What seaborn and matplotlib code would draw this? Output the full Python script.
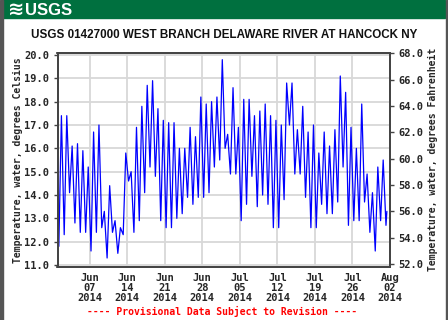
import numpy as np
import pandas as pd
import matplotlib
matplotlib.use("Agg")
import matplotlib.pyplot as plt
import matplotlib.dates as mdates
from matplotlib.patches import Rectangle
import seaborn as sns

# ---- data ----
title = "USGS 01427000 WEST BRANCH DELAWARE RIVER AT HANCOCK NY"
first_day = "2014-06-01"
start_value = 13.9
daily_low = [11.8, 12.3, 14.1, 12.8, 12.4, 12.4, 11.6, 12.4, 12.6, 11.3,
             12.4, 11.5, 12.3, 14.6, 12.4, 12.9, 14.1, 15.2, 14.8, 12.9,
             12.6, 12.6, 13.0, 13.2, 13.9, 13.6, 13.9, 13.9, 14.1, 15.2,
             15.5, 16.0, 14.9, 14.9, 12.9, 13.6, 14.8, 13.5, 14.0, 13.6,
             12.6, 12.6, 13.8, 17.0, 14.9, 14.9, 13.9, 12.6, 12.6, 13.6,
             13.2, 13.2, 13.7, 15.2, 12.7, 12.9, 12.9, 13.7, 12.4, 11.6,
             12.9, 12.7]
daily_high = [17.4, 17.4, 16.1, 16.2, 15.9, 15.2, 16.7, 17.0, 13.3, 14.4,
              12.9, 12.6, 15.8, 15.0, 16.9, 17.8, 18.7, 18.9, 17.7, 17.2,
              17.1, 17.1, 16.0, 16.0, 16.9, 16.5, 18.2, 17.9, 18.0, 18.2,
              19.8, 16.6, 18.6, 16.9, 18.1, 18.1, 17.4, 17.6, 17.9, 17.4,
              17.2, 17.0, 18.8, 18.8, 16.8, 17.8, 16.7, 17.0, 15.8, 16.7,
              16.1, 16.8, 19.1, 18.4, 16.9, 16.0, 17.9, 14.9, 14.1, 15.2,
              15.5]
end_value = 13.3
c_ticks = [11, 12, 13, 14, 15, 16, 17, 18, 19, 20]
f_ticks = [52, 54, 56, 58, 60, 62, 64, 66, 68]
x_tick_dates = ["2014-06-07", "2014-06-14", "2014-06-21", "2014-06-28",
                "2014-07-05", "2014-07-12", "2014-07-19", "2014-07-26",
                "2014-08-02"]

# ---- build the series (low ~06:00, high ~17:30 each day) ----
days = pd.date_range(first_day, periods=len(daily_low), freq="D")
times = [pd.Timestamp(first_day)]
vals = [start_value]
for i, d in enumerate(days):
    times.append(d + pd.Timedelta(hours=6))
    vals.append(daily_low[i])
    if i < len(daily_high):
        times.append(d + pd.Timedelta(hours=17.5))
        vals.append(daily_high[i])
times.append(days[-1] + pd.Timedelta(hours=10))
vals.append(end_value)
df = pd.DataFrame({"time": times, "temp": vals})

sns.set_style("white")
mono = ["DejaVu Sans Mono"]

W, H = 448, 320
fig = plt.figure(figsize=(W / 100, H / 100), dpi=100)
fig.patch.set_facecolor("white")

# banner
fig.patches.append(Rectangle((3 / W, 1 - 18 / H), 442 / W, 18 / H,
                             transform=fig.transFigure, color="#00703f", zorder=0))
fig.text(8 / W, 1 - 9.5 / H, "≋", color="white", fontsize=14, fontweight="bold",
         family="DejaVu Sans", va="center", ha="left")
fig.text(25 / W, 1 - 10.5 / H, "USGS", color="white", fontsize=12, fontweight="bold",
         family="Liberation Sans", va="center", ha="left")
# side borders
fig.patches.append(Rectangle((0, 0), 2.5 / W, 1, transform=fig.transFigure,
                             color="#555555", zorder=0))
fig.patches.append(Rectangle((1 - 2.5 / W, 0), 2.5 / W, 1, transform=fig.transFigure,
                             color="#555555", zorder=0))

fig.text(224 / W, 1 - 35 / H, title, ha="center", va="center", fontsize=8.4,
         family="Liberation Sans", fontweight="bold", color="#111111")

top, bot, left, right = 53, 266.5, 57.5, 390
ax = fig.add_axes([left / W, 1 - bot / H, (right - left) / W, (bot - top) / H])

sns.lineplot(data=df, x="time", y="temp", ax=ax, color="#0000ff", lw=0.9,
             estimator=None, sort=False)

ax.set_xlim(pd.Timestamp("2014-06-01"), pd.Timestamp("2014-08-02"))
ax.set_ylim(10.936, 20.086)
ax.set_yticks(c_ticks)
ax.set_yticklabels([f"{v:.1f}" for v in c_ticks])
ax.set_xticks([pd.Timestamp(d) for d in x_tick_dates])
ax.xaxis.set_major_formatter(mdates.DateFormatter("%b\n%d\n%Y"))
ax.grid(True, color="#d8d8d8", lw=1.3)
ax.set_axisbelow(True)
ax.set_xlabel("")
ax.set_ylabel("Temperature, water, degrees Celsius", family=mono, fontsize=7,
              fontweight="bold", labelpad=1)
for lab in ax.get_xticklabels() + ax.get_yticklabels():
    lab.set_family(mono)
    lab.set_fontweight("bold")
    lab.set_fontsize(7.5)
    lab.set_linespacing(1.0)
ax.tick_params(axis="both", length=3, width=1, color="#444444", pad=3)
ax.tick_params(axis="x", pad=2)
for s in ax.spines.values():
    s.set_color("#444444")
    s.set_linewidth(1.3)

ax2 = ax.twinx()
ax2.set_ylim(51.8, 68.02)
ax2.set_yticks(f_ticks)
ax2.set_yticklabels([f"{v:.1f}" for v in f_ticks], family=mono, fontsize=7.5,
                    fontweight="bold")
ax2.tick_params(axis="y", length=3, width=1, color="#444444", pad=3)
ax2.set_ylabel("Temperature, water, degrees Fahrenheit", family=mono, fontsize=7,
               fontweight="bold", labelpad=3)
ax2.grid(False)
for s in ax2.spines.values():
    s.set_color("#444444")
    s.set_linewidth(1.3)

fig.text(222 / W, 1 - 311 / H, "---- Provisional Data Subject to Revision ----",
         ha="center", va="center", color="#ff0000", family=mono, fontsize=7,
         fontweight="bold")

fig.savefig("out.png", dpi=100)
